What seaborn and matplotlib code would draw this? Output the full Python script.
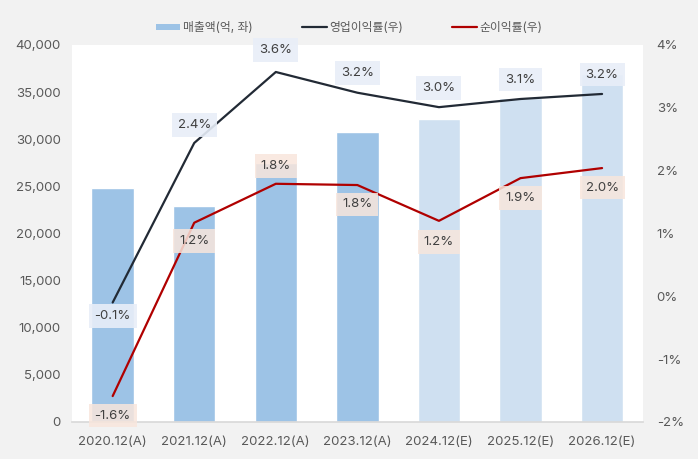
import numpy as np
import pandas as pd
import matplotlib
matplotlib.use("Agg")
import matplotlib.pyplot as plt
import seaborn as sns
from matplotlib.lines import Line2D
from matplotlib.patches import Patch

years = ["2020.12(A)", "2021.12(A)", "2022.12(A)", "2023.12(A)", "2024.12(E)", "2025.12(E)", "2026.12(E)"]
sales = [24800, 22900, 27500, 30800, 32100, 34400, 36900]
op_margin = [-0.1, 2.44, 3.57, 3.24, 3.01, 3.14, 3.22]
net_margin = [-1.59, 1.17, 1.79, 1.77, 1.20, 1.88, 2.04]
is_estimate = [False, False, False, False, True, True, True]

sns.set_theme(style="white")
plt.rcParams['font.family'] = ['Inter', 'Noto Sans CJK KR', 'DejaVu Sans']

bar_actual = "#9dc3e6"
bar_est = "#cfe0f1"
op_color = "#222a35"
net_color = "#b00000"
text_color = "#595959"

df = pd.DataFrame({"year": years, "sales": sales})
colors = [bar_est if e else bar_actual for e in is_estimate]

fig = plt.figure(figsize=(6.98, 4.59), dpi=100, facecolor="#f2f2f2")
ax = fig.add_axes([0.103, 0.081, 0.818, 0.821])
ax.set_facecolor("white")
sns.barplot(data=df, x="year", y="sales", hue="year", palette=colors, legend=False,
            width=0.52, saturation=1, ax=ax)
ax.set_ylim(0, 40000)
ax.set_yticks(range(0, 40001, 5000))
ax.set_yticklabels([f"{v:,}" for v in range(0, 40001, 5000)])
ax.set_xlabel("")
ax.set_ylabel("")
ax.set_xlim(-0.5, 6.5)
for s in ["top", "left", "right"]:
    ax.spines[s].set_visible(False)
ax.spines["bottom"].set_color("#d9d9d9")
ax.tick_params(axis="both", colors=text_color, labelsize=9.5, length=0)
ax.tick_params(axis="x", pad=10)
ax.tick_params(axis="y", pad=8)

ax2 = ax.twinx()
xs = np.arange(len(years))
sns.lineplot(x=xs, y=op_margin, color=op_color, linewidth=1.6, ax=ax2)
sns.lineplot(x=xs, y=net_margin, color=net_color, linewidth=1.6, ax=ax2)
ax2.set_ylim(-2, 4)
ax2.set_yticks(range(-2, 5))
ax2.set_yticklabels([f"{v}%" for v in range(-2, 5)])
ax2.tick_params(axis="y", colors=text_color, labelsize=9.5, length=0, pad=10)
for s in ["top", "left", "right", "bottom"]:
    ax2.spines[s].set_visible(False)

# data labels (offsets in points)
op_offsets = [-10, 13, 16, 14, 14, 14, 14]
net_offsets = [-14, -13, 13, -14, -15, -14, -14]
for i in range(len(years)):
    ax2.annotate(f"{op_margin[i]:.1f}%", (xs[i], op_margin[i]), xytext=(0, op_offsets[i]),
                 textcoords="offset points", ha="center", va="center", fontsize=9.5, color="#404040",
                 bbox=dict(boxstyle="square,pad=0.45", fc="#e8eef8", ec="none", alpha=0.9))
    ax2.annotate(f"{net_margin[i]:.1f}%", (xs[i], net_margin[i]), xytext=(0, net_offsets[i]),
                 textcoords="offset points", ha="center", va="center", fontsize=9.5, color="#404040",
                 bbox=dict(boxstyle="square,pad=0.45", fc="#f8e6dc", ec="none", alpha=0.85))

handles = [
    Patch(facecolor=bar_actual, edgecolor="none"),
    Line2D([0], [0], color=op_color, linewidth=1.6),
    Line2D([0], [0], color=net_color, linewidth=1.6),
]
labels = ["매출액(억, 좌)", "영업이익률(우)", "순이익률(우)"]
fig.legend(handles, labels, loc="upper center", bbox_to_anchor=(0.5, 0.975), ncol=3, frameon=False,
           fontsize=8.5, labelcolor=text_color, handlelength=2.1, handleheight=0.5,
           handletextpad=0.2, columnspacing=4.2)

fig.savefig("out.png", dpi=100, facecolor=fig.get_facecolor())
